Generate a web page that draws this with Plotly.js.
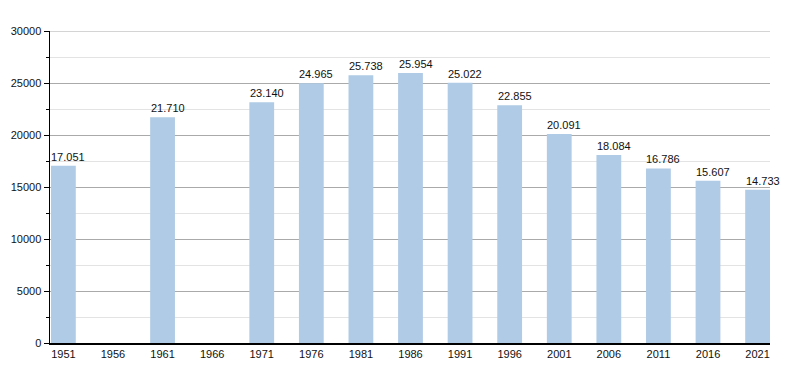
<!DOCTYPE html>
<html><head><meta charset="utf-8">
<script src="https://cdn.plot.ly/plotly-3.0.1.min.js"></script>
<style>html,body{margin:0;padding:0;background:#fff}#c{width:800px;height:373px}</style>
</head><body><div id="c"></div>
<script>
var years = ["1951","1956","1961","1966","1971","1976","1981","1986","1991","1996","2001","2006","2011","2016","2021"];
var population = [17051, null, 21710, null, 23140, 24965, 25738, 25954, 25022, 22855, 20091, 18084, 16786, 15607, 14733];
var yTicks = [0, 5000, 10000, 15000, 20000, 25000, 30000];

function fmt(v){ return String(v).replace(/\B(?=(\d{3})+(?!\d))/g, "."); }
var idx = years.map(function(_, i){ return i; });

var annotations = [];
population.forEach(function(v, i){
  if (v === null) return;
  annotations.push({x: i, y: v, xref: 'x', yref: 'y', text: fmt(v), showarrow: false,
    yanchor: 'bottom', xanchor: 'center', xshift: 5, yshift: 1,
    font: {family: 'Liberation Sans, Arial, sans-serif', size: 11, color: '#111'}});
});

var trace = {type: 'bar', x: idx, y: population, width: 0.5,
  marker: {color: '#b0cbe6', line: {width: 0}}, hoverinfo: 'none'};

var layout = {
  width: 800, height: 373,
  margin: {l: 50, r: 30, t: 31, b: 30},
  paper_bgcolor: '#fff', plot_bgcolor: '#fff',
  showlegend: false,
  font: {family: 'Liberation Sans, Arial, sans-serif', size: 11, color: '#111'},
  xaxis: {range: [-0.27, 14.25], tickvals: idx, ticktext: years, showgrid: false,
    zeroline: false, showline: true, linecolor: '#000', linewidth: 1.5, ticks: '', fixedrange: true,
    tickfont: {size: 11, color: '#111'}},
  yaxis: {range: [0, 30000], tickvals: yTicks, ticktext: yTicks.map(String), showgrid: true,
    gridcolor: '#aaaaaa', gridwidth: 1, zeroline: false, showline: true, linecolor: '#000', linewidth: 1.5,
    ticks: 'outside', ticklen: 5, tickcolor: '#000', tickwidth: 1,
    minor: {tickvals: [2500, 7500, 12500, 17500, 22500, 27500], showgrid: true, gridcolor: '#e3e3e3', ticks: 'outside', ticklen: 3, tickcolor: '#000'},
    tickfont: {size: 11, color: '#111'}},
  shapes: [{type: 'line', xref: 'paper', yref: 'y', x0: 0, x1: 1, y0: 30000, y1: 30000,
    line: {color: '#aaaaaa', width: 1}, layer: 'below'}],
  annotations: annotations
};
Plotly.newPlot('c', [trace], layout, {displayModeBar: false, staticPlot: true});
</script></body></html>
